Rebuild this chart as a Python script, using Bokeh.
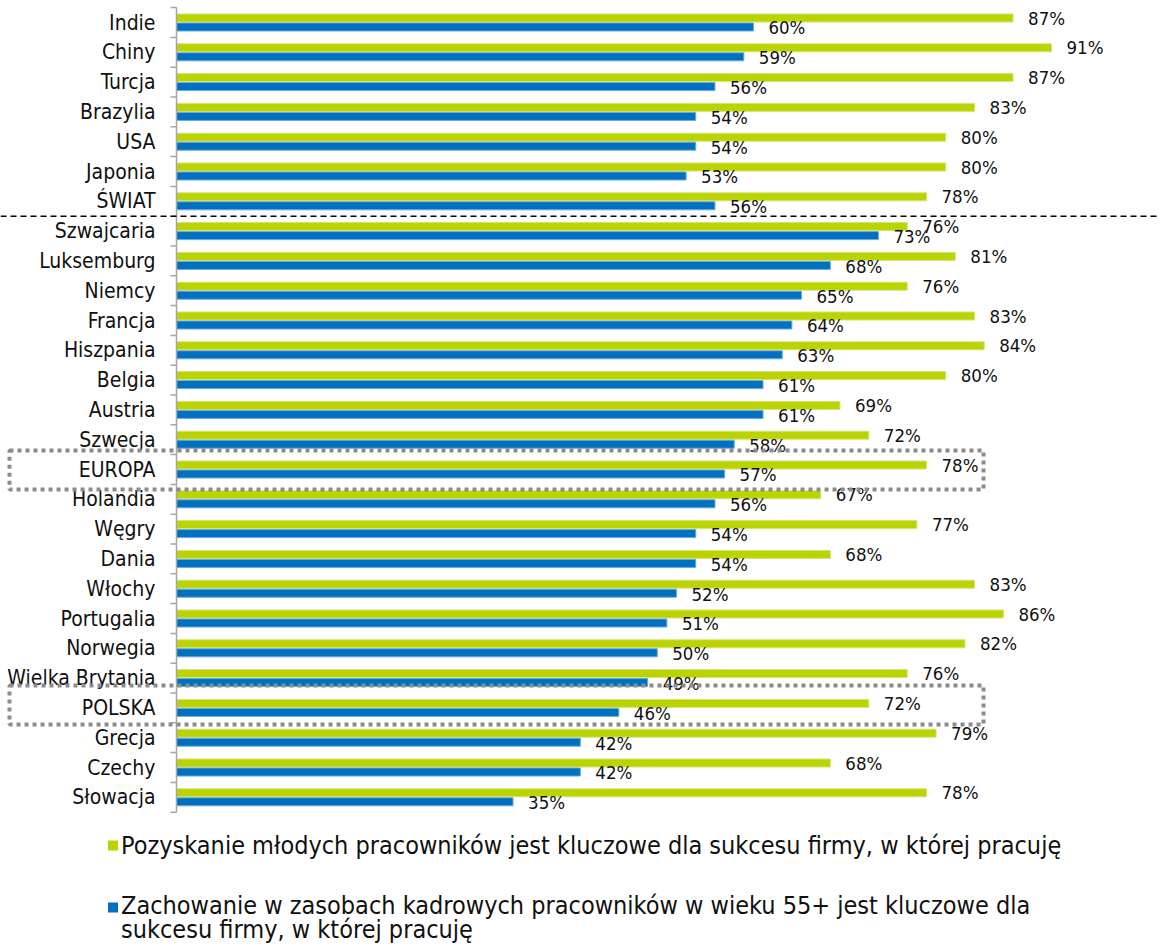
import numpy as np
from bokeh.plotting import figure
from bokeh.models import ColumnDataSource, Range1d, Span
from bokeh.core.properties import value
from bokeh.transform import dodge
from bokeh.embed import file_html
from bokeh.resources import INLINE

categories = ["Indie", "Chiny", "Turcja", "Brazylia", "USA", "Japonia", "ŚWIAT",
              "Szwajcaria", "Luksemburg", "Niemcy", "Francja", "Hiszpania", "Belgia",
              "Austria", "Szwecja", "EUROPA", "Holandia", "Węgry", "Dania", "Włochy",
              "Portugalia", "Norwegia", "Wielka Brytania", "POLSKA", "Grecja", "Czechy",
              "Słowacja"]
young = [87, 91, 87, 83, 80, 80, 78, 76, 81, 76, 83, 84, 80, 69, 72, 78, 67, 77,
         68, 83, 86, 82, 76, 72, 79, 68, 78]
older = [60, 59, 56, 54, 54, 53, 56, 73, 68, 65, 64, 63, 61, 61, 58, 57, 56, 54,
         54, 52, 51, 50, 49, 46, 42, 42, 35]
series_names = ["Pozyskanie młodych pracowników jest kluczowe dla sukcesu firmy, w której pracuję",
                "Zachowanie w zasobach kadrowych pracowników w wieku 55+ jest kluczowe dla\nsukcesu firmy, w której pracuję"]
highlighted = ["EUROPA", "POLSKA"]
separator_after = "ŚWIAT"

GREEN = "#BBD300"
BLUE = "#0070C0"
FONT = "DejaVu Sans Condensed"

W, H = 1159, 947
PX_PER_UNIT = 9.6154          # x pixels per percentage point
X0_PX = 176                   # pixel of 0%
ROW_PX = 29.8                 # pixels per category row
ROW0_PX = 22                  # pixel centre of first row

x_start = -X0_PX / PX_PER_UNIT
x_end = x_start + W / PX_PER_UNIT
y_end = ROW0_PX / ROW_PX
y_start = -(H - ROW0_PX) / ROW_PX

def px_x(px):
    return x_start + px / PX_PER_UNIT

def px_y(px):
    return y_end - px / ROW_PX

n = len(categories)
pos = [-i for i in range(n)]
src = ColumnDataSource(dict(
    cat=categories, y=pos, young=young, older=older,
    young_lbl=[f"{v}%" for v in young], older_lbl=[f"{v}%" for v in older],
))

p = figure(width=W, height=H, output_backend="svg", toolbar_location=None,
           x_range=Range1d(x_start, x_end), y_range=Range1d(y_start, y_end),
           min_border=0, min_border_left=0, min_border_right=0,
           min_border_top=0, min_border_bottom=0)
p.axis.visible = False
p.grid.visible = False
p.outline_line_color = None
p.background_fill_color = "white"
p.border_fill_color = "white"

bar_h = 0.27
off = 0.151
p.hbar(y=dodge("y", off), right="young", left=0, height=bar_h, source=src,
       fill_color=GREEN, line_color="#d4e47a", line_width=1)
p.hbar(y=dodge("y", -off), right="older", left=0, height=bar_h, source=src,
       fill_color=BLUE, line_color="#6fa8dc", line_width=1)

p.text(x="young", y=dodge("y", off), text="young_lbl", source=src,
       x_offset=15, y_offset=0, text_baseline="middle", text_align="left",
       text_font=value(FONT), text_font_size="18.5px", text_color="#111111")
p.text(x="older", y=dodge("y", -off), text="older_lbl", source=src,
       x_offset=15, y_offset=1, text_baseline="middle", text_align="left",
       text_font=value(FONT), text_font_size="18.5px", text_color="#111111")

# category labels
p.text(x=0, y="y", text="cat", source=src, x_offset=-21, y_offset=0,
       text_baseline="middle", text_align="right",
       text_font=value(FONT), text_font_size="21px", text_color="#111111")

# axis line and ticks
p.segment(x0=[0], y0=[0.5], x1=[0], y1=[-(n - 0.5)], line_color="#a6a6a6", line_width=1.5)
ticks = [0.5 - k for k in range(n + 1)]
p.ray(x=[0] * len(ticks), y=ticks, angle=np.pi, length=6, length_units="screen",
      line_color="#a6a6a6", line_width=1.5)

# separator
sep_y = -categories.index(separator_after) - 0.5
p.add_layout(Span(location=sep_y, dimension="width", line_color="black",
                  line_width=1.5, line_dash="6 4"))

# highlight boxes
bx_l, bx_r = px_x(9), px_x(983)
for name, dy in zip(highlighted, [-0.02, 0.1]):
    yc = -categories.index(name) + dy
    p.rect(x=(bx_l + bx_r) / 2, y=yc, width=bx_r - bx_l, height=1.31,
           fill_color=None, line_color="#8c8c8c", line_width=4, line_dash="4 4")

# legend (manual)
leg_x = px_x(112.5)
p.scatter(x=[leg_x, leg_x], y=[px_y(845), px_y(907)], marker="square", size=10,
          fill_color=[GREEN, BLUE], line_color=None)
p.text(x=[leg_x, leg_x], y=[px_y(845), px_y(917)], text=series_names, x_offset=8,
       text_baseline="middle", text_align="left", text_line_height=0.86,
       text_font=value(FONT), text_font_size="25px", text_color="#111111")

open("out.html", "w").write(file_html(p, INLINE))
